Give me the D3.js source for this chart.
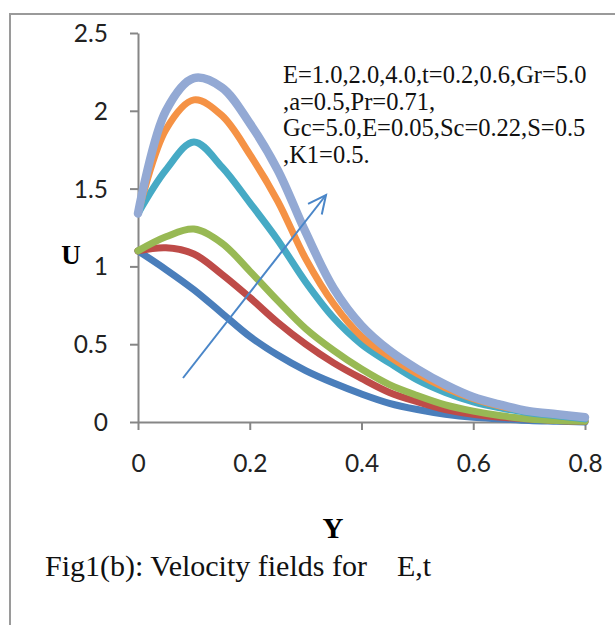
<!DOCTYPE html>
<html><head><meta charset="utf-8">
<script src="https://cdn.jsdelivr.net/npm/d3@7"></script>
<style>body{margin:0;background:#fff}svg{display:block}</style>
</head><body>
<svg id="c" width="615" height="625"></svg>
<script>
const yPos = [0,0.05,0.1,0.15,0.2,0.25,0.3,0.35,0.4,0.45,0.5,0.55,0.6,0.65,0.7,0.75,0.8];
const s1 = [1.10,0.98,0.85,0.70,0.55,0.43,0.33,0.25,0.18,0.12,0.08,0.05,0.03,0.02,0.01,0.005,0];
const s2 = [1.10,1.12,1.08,0.95,0.80,0.64,0.50,0.38,0.28,0.19,0.13,0.08,0.05,0.03,0.02,0.01,0.005];
const s3 = [1.10,1.19,1.24,1.15,0.97,0.78,0.60,0.46,0.34,0.24,0.17,0.11,0.07,0.04,0.02,0.01,0.005];
const s4 = [1.34,1.62,1.80,1.64,1.41,1.17,0.90,0.67,0.50,0.38,0.27,0.19,0.13,0.09,0.06,0.04,0.02];
const s5 = [1.34,1.88,2.07,1.97,1.72,1.42,1.05,0.76,0.55,0.42,0.31,0.22,0.15,0.10,0.07,0.05,0.03];
const s6 = [1.34,2.00,2.21,2.15,1.92,1.62,1.22,0.86,0.62,0.46,0.34,0.24,0.16,0.11,0.07,0.05,0.03];
const seriesList = [s1,s2,s3,s4,s5,s6];
const colors = ["#4A7EBB","#BE4B48","#98B954","#46AAC5","#F59245","#93A9D4"];
const widths = [7,7,7,7,7,8.5];
const xTicks = [0,0.2,0.4,0.6,0.8];
const yTicks = [0,0.5,1,1.5,2,2.5];
const annotation = ["E=1.0,2.0,4.0,t=0.2,0.6,Gr=5.0", ",a=0.5,Pr=0.71,", "Gc=5.0,E=0.05,Sc=0.22,S=0.5", ",K1=0.5."];
const caption = "Fig1(b): Velocity fields for \u00a0\u00a0 E,t";

const svg = d3.select("#c");
// outer frame
svg.append("path").attr("d","M10,625 L10,14 L615,14").attr("fill","none").attr("stroke","#9a9a9a").attr("stroke-width",2);

const x = d3.scaleLinear().domain([0,0.8]).range([138,585]);
const y = d3.scaleLinear().domain([0,2.5]).range([422,33]);

const fmt = d => d===0 ? "0" : String(d);
const gx = svg.append("g").attr("transform","translate(0,422)")
  .call(d3.axisBottom(x).tickValues(xTicks).tickFormat(fmt).tickSize(8).tickSizeOuter(0));
const gy = svg.append("g").attr("transform","translate(138,0)")
  .call(d3.axisLeft(y).tickValues(yTicks).tickFormat(fmt).tickSize(8).tickSizeOuter(0));
[gx,gy].forEach(g=>{
  g.select(".domain").attr("stroke","#868686").attr("stroke-width",2);
  g.selectAll(".tick line").attr("stroke","#868686").attr("stroke-width",2);
  g.selectAll("text").attr("font-family","Lato, 'Open Sans', sans-serif").attr("font-size",24.5).attr("fill","#222");
});
gx.selectAll("text").attr("y",0).attr("dy","50");
gy.selectAll("text").attr("x",-30).attr("dy","0.35em");

const line = d3.line().x((d,i)=>x(yPos[i])).y(d=>y(d)).curve(d3.curveCatmullRom.alpha(0.5));
seriesList.forEach((s,k)=>{
  svg.append("path").datum(s).attr("d",line).attr("fill","none")
    .attr("stroke",colors[k]).attr("stroke-width",widths[k]).attr("stroke-linejoin","round").attr("stroke-linecap","round");
});

// arrow
const ax0=183, ay0=378, ax1=326, ay1=195;
svg.append("line").attr("x1",ax0).attr("y1",ay0).attr("x2",ax1).attr("y2",ay1).attr("stroke","#4A86C8").attr("stroke-width",2);
const ang = Math.atan2(ay1-ay0, ax1-ax0), L=20, spread=0.45;
svg.append("path").attr("d",`M${ax1-L*Math.cos(ang-spread)},${ay1-L*Math.sin(ang-spread)} L${ax1},${ay1} L${ax1-L*Math.cos(ang+spread)},${ay1-L*Math.sin(ang+spread)}`)
  .attr("fill","none").attr("stroke","#4A86C8").attr("stroke-width",2).attr("stroke-linejoin","miter");

// annotation
const ann = svg.append("text").attr("font-family","'Liberation Serif', 'Times New Roman', serif").attr("font-size",24.5).attr("fill","#111");
annotation.forEach((t,i)=>ann.append("tspan").attr("x",283).attr("y",83+i*26.7).text(t));

// axis titles
svg.append("text").attr("x",71).attr("y",264).attr("text-anchor","middle").attr("font-family","'Liberation Serif', serif").attr("font-weight","bold").attr("font-size",27).text("U");
svg.append("text").attr("x",333).attr("y",538).attr("text-anchor","middle").attr("font-family","'Liberation Serif', serif").attr("font-weight","bold").attr("font-size",29).text("Y");
svg.append("text").attr("x",45).attr("y",576).attr("font-family","'Liberation Serif', serif").attr("font-size",30).attr("fill","#111").text(caption);
</script>
</body></html>
